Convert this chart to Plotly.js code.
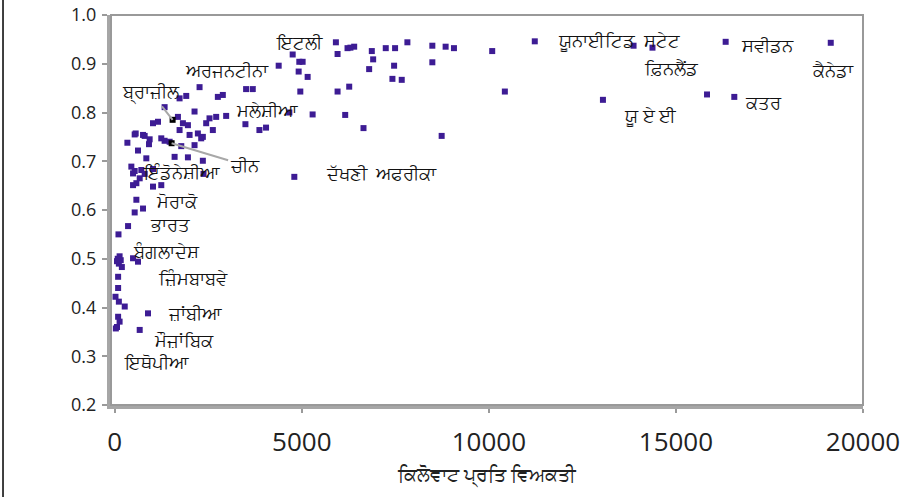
<!DOCTYPE html>
<html>
<head>
<meta charset="utf-8">
<script src="https://cdn.plot.ly/plotly-3.0.1.min.js"></script>
<style>html,body{margin:0;padding:0;background:#fff;}#chart{width:904px;height:497px;}</style>
</head>
<body>
<div id="chart"></div>
<script>
// kWh per capita (x) and HDI (y) for unlabelled countries
const kwh = [100, 356, 80, 130, 160, 110, 190, 60, 489, 622, 90, 90, 20, 110, 267, 90, 130, 60, 30,
  889, 667,
  578, 756, 533, 489, 1022, 1244, 578, 667, 444, 489, 533, 711, 800, 1022,
  844, 1600, 1956, 2355, 2373, 622, 1778, 2133, 338, 533, 800, 915, 560, 756, 933,
  1244, 1333, 1467, 1733, 2000, 2222, 2311, 2355, 1022, 1156, 1689, 1822, 1956,
  1333, 2133, 1733, 1911, 2267, 2444, 2533, 2622, 2711, 2978, 2756, 2889,
  3493, 3511, 3689, 3867, 4044, 4667, 4382, 4756, 4933, 5022, 4916, 5156, 4960, 4800,
  5289, 6160, 6649, 5911, 5956, 6222, 6400, 6300, 5956, 6267, 6871, 6907, 6800,
  7244, 7493, 7822, 7467, 7422, 7671, 8489, 8489, 8844, 9067, 8738,
  10089, 11227, 10427, 13867, 14373, 16329, 19138, 13049, 15831, 16560];
const hdi = [0.550, 0.567, 0.500, 0.505, 0.497, 0.490, 0.483, 0.495, 0.501, 0.494, 0.463, 0.440, 0.422, 0.412, 0.402, 0.381, 0.371, 0.360, 0.357,
  0.388, 0.354,
  0.621, 0.603, 0.595, 0.651, 0.648, 0.651, 0.655, 0.665, 0.689, 0.675, 0.680, 0.682, 0.674, 0.684,
  0.706, 0.709, 0.708, 0.701, 0.674, 0.722, 0.731, 0.733, 0.738, 0.755, 0.752, 0.735, 0.757, 0.754, 0.745,
  0.747, 0.742, 0.740, 0.764, 0.754, 0.757, 0.747, 0.750, 0.778, 0.781, 0.791, 0.778, 0.774,
  0.811, 0.802, 0.829, 0.834, 0.852, 0.778, 0.788, 0.764, 0.791, 0.793, 0.832, 0.836,
  0.776, 0.848, 0.848, 0.764, 0.769, 0.800, 0.896, 0.919, 0.904, 0.904, 0.884, 0.873, 0.843, 0.668,
  0.796, 0.795, 0.768, 0.944, 0.920, 0.932, 0.935, 0.933, 0.843, 0.853, 0.926, 0.909, 0.889,
  0.932, 0.932, 0.944, 0.896, 0.869, 0.867, 0.937, 0.903, 0.935, 0.932, 0.752,
  0.926, 0.946, 0.843, 0.937, 0.933, 0.945, 0.943, 0.826, 0.837, 0.832];

// highlighted points (Brazil, China)
const hlNames = ['ਬ੍ਰਾਜ਼ੀਲ', 'ਚੀਨ'];
const hlKwh = [1547, 1520];
const hlHdi = [0.785, 0.737];
const hlOffX = [-22, 73];
const hlOffY = [-28, 22];

// country labels
const labNames = ['ਇਟਲੀ', 'ਅਰਜਨਟੀਨਾ', 'ਮਲੇਸ਼ੀਆ', 'ਇੰਡੋਨੇਸ਼ੀਆ', 'ਮੋਰਾਕੋ', 'ਭਾਰਤ', 'ਬੰਗਲਾਦੇਸ਼',
  'ਜ਼ਿੰਮਬਾਬਵੇ', 'ਜ਼ਾਂਬੀਆ', 'ਮੌਜ਼ਾਂਬਿਕ', 'ਇਥੋਪੀਆ', 'ਦੱਖਣੀ\u00a0\u00a0ਅਫਰੀਕਾ', 'ਯੂਨਾਈਟਿਡ\u00a0\u00a0ਸਟੇਟ',
  'ਫ਼ਿਨਲੈਂਡ', 'ਸਵੀਡਨ', 'ਕੈਨੇਡਾ', 'ਕਤਰ', 'ਯੂ ਏ ਈ'];
const labX = [4933, 3013, 4080, 1787, 1653, 1467, 1387, 2080, 2133, 1840, 1120, 7120, 13467, 14880, 17440, 19200, 17333, 14320];
const labY = [0.945, 0.887, 0.805, 0.678, 0.618, 0.571, 0.516, 0.461, 0.388, 0.334, 0.288, 0.676, 0.949, 0.891, 0.938, 0.887, 0.822, 0.795];

const xTicks = [0, 5000, 10000, 15000, 20000];
const yTicks = [0.2, 0.3, 0.4, 0.5, 0.6, 0.7, 0.8, 0.9, 1.0];
const xTitle = 'ਕਿਲੋਵਾਟ ਪ੍ਰਤਿ ਵਿਅਕਤੀ';

const labelFont = {family: 'Noto Sans, DejaVu Sans, sans-serif', size: 18, color: '#111'};

const annotations = labNames.map((t, i) => ({
  x: labX[i], y: labY[i], xref: 'x', yref: 'y', text: t, showarrow: false,
  font: labelFont, xanchor: 'center', yanchor: 'middle'
})).concat(hlNames.map((t, i) => ({
  x: hlKwh[i], y: hlHdi[i], xref: 'x', yref: 'y', text: t, showarrow: true,
  ax: hlOffX[i], ay: hlOffY[i], arrowhead: 0, arrowwidth: 2, arrowcolor: '#a8a8a8',
  standoff: 0, startstandoff: 0, font: labelFont
})));

const traces = [
  {x: kwh, y: hdi, type: 'scatter', mode: 'markers',
   marker: {symbol: 'square', size: 6, color: '#3d1c94'}, hoverinfo: 'none'},
  {x: hlKwh, y: hlHdi, type: 'scatter', mode: 'markers',
   marker: {symbol: 'square', size: 6, color: '#000000'}, hoverinfo: 'none'}
];

const layout = {
  width: 904, height: 497,
  margin: {l: 111, r: 41, t: 15, b: 92},
  paper_bgcolor: '#ffffff', plot_bgcolor: '#ffffff',
  showlegend: false,
  font: {family: 'Open Sans, DejaVu Sans, sans-serif', color: '#222'},
  xaxis: {
    range: [-100, 20000], tickvals: xTicks, ticktext: xTicks.map(String),
    showgrid: false, zeroline: false, showline: true, linecolor: '#a6a6a6', linewidth: 4,
    ticks: 'outside', ticklen: 4, tickwidth: 2, tickcolor: '#9a9a9a',
    tickfont: {family: 'Open Sans, DejaVu Sans, sans-serif', size: 26, color: '#222'},
    ticklabelstandoff: 7,
    title: {text: xTitle, font: {family: 'Noto Sans, DejaVu Sans, sans-serif', size: 19, color: '#222'}, standoff: 10}
  },
  yaxis: {
    range: [0.2, 1.0], tickvals: yTicks, ticktext: yTicks.map(v => v.toFixed(1)),
    showgrid: false, zeroline: false, showline: true, linecolor: '#a6a6a6', linewidth: 4,
    ticks: 'outside', ticklen: 5, tickwidth: 2, tickcolor: '#9a9a9a',
    tickfont: {family: 'Open Sans, DejaVu Sans, sans-serif', size: 18, color: '#222'},
    ticklabelstandoff: 2
  },
  shapes: [
    {type: 'rect', xref: 'paper', yref: 'paper', x0: 0, x1: 1, y0: 0, y1: 1,
     line: {color: '#999999', width: 2}},
    {type: 'line', xref: 'paper', yref: 'paper', x0: -0.1436, x1: -0.1436, y0: -0.25, y1: 1.05,
     line: {color: '#000000', width: 1.5}}
  ],
  annotations: annotations
};

Plotly.newPlot('chart', traces, layout, {displayModeBar: false, staticPlot: true});
</script>
</body>
</html>
